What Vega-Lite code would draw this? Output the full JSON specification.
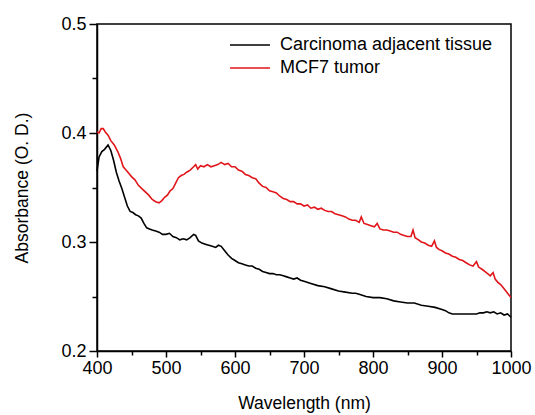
{
  "$schema": "https://vega.github.io/schema/vega-lite/v6.json",
  "width": 414,
  "height": 327,
  "autosize": {"type": "none"},
  "padding": {"left": 97, "top": 24, "right": 24, "bottom": 64},
  "background": "white",
  "config": {
    "font": "Liberation Sans",
    "view": {"stroke": "black", "strokeWidth": 1.5},
    "axis": {
      "grid": false,
      "domainColor": "black",
      "domainWidth": 1.5,
      "tickColor": "black",
      "tickWidth": 1.5,
      "labelColor": "black",
      "titleColor": "black",
      "labelFontSize": 18,
      "titleFontSize": 17.5,
      "titleFontWeight": "normal",
      "labelFont": "Liberation Sans",
      "titleFont": "Liberation Sans",
      "labelFlush": false,
      "labelOverlap": false
    },
    "legend": {
      "labelFontSize": 18,
      "labelFont": "Liberation Sans",
      "labelColor": "black",
      "labelLimit": 0
    }
  },
  "datasets": {
    "black": [
      {"w": 400, "a": 0.365}, {"w": 403, "a": 0.378}, {"w": 407, "a": 0.383}, {"w": 411, "a": 0.385},
      {"w": 416, "a": 0.389}, {"w": 420, "a": 0.384}, {"w": 424, "a": 0.375}, {"w": 428, "a": 0.364},
      {"w": 432, "a": 0.356}, {"w": 436, "a": 0.349}, {"w": 440, "a": 0.341}, {"w": 444, "a": 0.333},
      {"w": 448, "a": 0.328}, {"w": 452, "a": 0.327}, {"w": 456, "a": 0.325}, {"w": 460, "a": 0.324},
      {"w": 464, "a": 0.322}, {"w": 468, "a": 0.317}, {"w": 472, "a": 0.313}, {"w": 476, "a": 0.312},
      {"w": 480, "a": 0.311}, {"w": 485, "a": 0.310}, {"w": 490, "a": 0.309}, {"w": 495, "a": 0.307},
      {"w": 500, "a": 0.307}, {"w": 505, "a": 0.308}, {"w": 510, "a": 0.305}, {"w": 515, "a": 0.304},
      {"w": 520, "a": 0.302}, {"w": 525, "a": 0.303}, {"w": 530, "a": 0.302}, {"w": 535, "a": 0.304},
      {"w": 540, "a": 0.307}, {"w": 543, "a": 0.306}, {"w": 547, "a": 0.301}, {"w": 552, "a": 0.299},
      {"w": 557, "a": 0.298}, {"w": 562, "a": 0.297}, {"w": 567, "a": 0.296}, {"w": 572, "a": 0.295},
      {"w": 576, "a": 0.297}, {"w": 580, "a": 0.296}, {"w": 585, "a": 0.292}, {"w": 590, "a": 0.288},
      {"w": 595, "a": 0.285}, {"w": 600, "a": 0.283}, {"w": 605, "a": 0.281}, {"w": 610, "a": 0.280},
      {"w": 615, "a": 0.279}, {"w": 620, "a": 0.278}, {"w": 625, "a": 0.278}, {"w": 630, "a": 0.276},
      {"w": 635, "a": 0.275}, {"w": 640, "a": 0.273}, {"w": 645, "a": 0.272}, {"w": 650, "a": 0.271},
      {"w": 655, "a": 0.271}, {"w": 660, "a": 0.270}, {"w": 665, "a": 0.270}, {"w": 670, "a": 0.269},
      {"w": 675, "a": 0.268}, {"w": 680, "a": 0.267}, {"w": 685, "a": 0.266}, {"w": 690, "a": 0.267},
      {"w": 695, "a": 0.265}, {"w": 700, "a": 0.264}, {"w": 710, "a": 0.262}, {"w": 720, "a": 0.260},
      {"w": 730, "a": 0.259}, {"w": 740, "a": 0.257}, {"w": 750, "a": 0.255}, {"w": 760, "a": 0.254},
      {"w": 770, "a": 0.253}, {"w": 775, "a": 0.253}, {"w": 780, "a": 0.252}, {"w": 790, "a": 0.250},
      {"w": 800, "a": 0.249}, {"w": 810, "a": 0.249}, {"w": 820, "a": 0.248}, {"w": 830, "a": 0.246},
      {"w": 840, "a": 0.245}, {"w": 850, "a": 0.244}, {"w": 860, "a": 0.244}, {"w": 870, "a": 0.242},
      {"w": 880, "a": 0.241}, {"w": 890, "a": 0.240}, {"w": 900, "a": 0.238}, {"w": 905, "a": 0.237},
      {"w": 910, "a": 0.235}, {"w": 915, "a": 0.234}, {"w": 920, "a": 0.234}, {"w": 930, "a": 0.234},
      {"w": 940, "a": 0.234}, {"w": 950, "a": 0.234}, {"w": 955, "a": 0.235}, {"w": 960, "a": 0.235},
      {"w": 965, "a": 0.236}, {"w": 970, "a": 0.235}, {"w": 975, "a": 0.236}, {"w": 980, "a": 0.234},
      {"w": 985, "a": 0.235}, {"w": 990, "a": 0.233}, {"w": 995, "a": 0.234}, {"w": 1000, "a": 0.231}
    ],
    "red": [
      {"w": 400, "a": 0.401}, {"w": 403, "a": 0.400}, {"w": 406, "a": 0.404}, {"w": 409, "a": 0.404},
      {"w": 412, "a": 0.401}, {"w": 416, "a": 0.398}, {"w": 420, "a": 0.393}, {"w": 425, "a": 0.389},
      {"w": 430, "a": 0.383}, {"w": 434, "a": 0.377}, {"w": 438, "a": 0.369}, {"w": 442, "a": 0.366},
      {"w": 446, "a": 0.363}, {"w": 450, "a": 0.360}, {"w": 455, "a": 0.357}, {"w": 460, "a": 0.352},
      {"w": 465, "a": 0.349}, {"w": 470, "a": 0.346}, {"w": 475, "a": 0.343}, {"w": 480, "a": 0.339},
      {"w": 485, "a": 0.337}, {"w": 490, "a": 0.336}, {"w": 494, "a": 0.338}, {"w": 498, "a": 0.341},
      {"w": 502, "a": 0.343}, {"w": 506, "a": 0.347}, {"w": 510, "a": 0.349}, {"w": 514, "a": 0.354},
      {"w": 518, "a": 0.359}, {"w": 522, "a": 0.361}, {"w": 526, "a": 0.362}, {"w": 530, "a": 0.364},
      {"w": 535, "a": 0.366}, {"w": 540, "a": 0.369}, {"w": 543, "a": 0.371}, {"w": 546, "a": 0.367},
      {"w": 550, "a": 0.370}, {"w": 555, "a": 0.369}, {"w": 560, "a": 0.371}, {"w": 565, "a": 0.369},
      {"w": 570, "a": 0.370}, {"w": 575, "a": 0.371}, {"w": 580, "a": 0.373}, {"w": 585, "a": 0.371},
      {"w": 590, "a": 0.372}, {"w": 595, "a": 0.369}, {"w": 600, "a": 0.369}, {"w": 605, "a": 0.366},
      {"w": 610, "a": 0.365}, {"w": 615, "a": 0.362}, {"w": 620, "a": 0.361}, {"w": 625, "a": 0.359},
      {"w": 630, "a": 0.358}, {"w": 635, "a": 0.354}, {"w": 640, "a": 0.351}, {"w": 645, "a": 0.350},
      {"w": 650, "a": 0.347}, {"w": 655, "a": 0.346}, {"w": 660, "a": 0.345}, {"w": 665, "a": 0.342},
      {"w": 670, "a": 0.340}, {"w": 675, "a": 0.339}, {"w": 680, "a": 0.337}, {"w": 685, "a": 0.337},
      {"w": 690, "a": 0.335}, {"w": 695, "a": 0.335}, {"w": 700, "a": 0.333}, {"w": 705, "a": 0.334},
      {"w": 710, "a": 0.331}, {"w": 715, "a": 0.332}, {"w": 720, "a": 0.330}, {"w": 725, "a": 0.331},
      {"w": 730, "a": 0.329}, {"w": 735, "a": 0.328}, {"w": 740, "a": 0.328}, {"w": 745, "a": 0.326},
      {"w": 750, "a": 0.325}, {"w": 755, "a": 0.324}, {"w": 760, "a": 0.323}, {"w": 765, "a": 0.321},
      {"w": 770, "a": 0.320}, {"w": 775, "a": 0.320}, {"w": 780, "a": 0.318}, {"w": 783, "a": 0.323},
      {"w": 787, "a": 0.317}, {"w": 792, "a": 0.316}, {"w": 797, "a": 0.315}, {"w": 802, "a": 0.314},
      {"w": 806, "a": 0.317}, {"w": 810, "a": 0.312}, {"w": 815, "a": 0.311}, {"w": 820, "a": 0.311},
      {"w": 825, "a": 0.310}, {"w": 830, "a": 0.309}, {"w": 835, "a": 0.309}, {"w": 840, "a": 0.307},
      {"w": 845, "a": 0.306}, {"w": 850, "a": 0.305}, {"w": 855, "a": 0.305}, {"w": 858, "a": 0.311},
      {"w": 861, "a": 0.304}, {"w": 866, "a": 0.302}, {"w": 870, "a": 0.300}, {"w": 875, "a": 0.299},
      {"w": 880, "a": 0.297}, {"w": 885, "a": 0.296}, {"w": 889, "a": 0.301}, {"w": 892, "a": 0.295},
      {"w": 896, "a": 0.293}, {"w": 900, "a": 0.292}, {"w": 905, "a": 0.290}, {"w": 910, "a": 0.289},
      {"w": 915, "a": 0.287}, {"w": 920, "a": 0.286}, {"w": 925, "a": 0.284}, {"w": 930, "a": 0.283},
      {"w": 935, "a": 0.281}, {"w": 940, "a": 0.279}, {"w": 945, "a": 0.278}, {"w": 950, "a": 0.282},
      {"w": 953, "a": 0.277}, {"w": 958, "a": 0.275}, {"w": 962, "a": 0.273}, {"w": 966, "a": 0.271},
      {"w": 970, "a": 0.269}, {"w": 974, "a": 0.272}, {"w": 977, "a": 0.266}, {"w": 981, "a": 0.263},
      {"w": 985, "a": 0.261}, {"w": 990, "a": 0.257}, {"w": 995, "a": 0.253}, {"w": 1000, "a": 0.249}
    ]
  },
  "encoding": {
    "x": {
      "field": "w", "type": "quantitative",
      "scale": {"domain": [400, 1000], "nice": false, "zero": false},
      "axis": {
        "title": "Wavelength (nm)",
        "values": [400, 450, 500, 550, 600, 650, 700, 750, 800, 850, 900, 950, 1000],
        "format": "d",
        "labelExpr": "datum.value % 100 === 0 ? datum.label : ''",
        "tickSize": {"condition": {"test": "datum.value % 100 === 0", "value": 6}, "value": 4},
        "labelPadding": 2,
        "titlePadding": 17
      }
    },
    "y": {
      "field": "a", "type": "quantitative",
      "scale": {"domain": [0.2, 0.5], "nice": false, "zero": false},
      "axis": {
        "title": "Absorbance (O. D.)",
        "values": [0.2, 0.25, 0.3, 0.35, 0.4, 0.45, 0.5],
        "format": ".1f",
        "labelExpr": "abs(datum.value * 10 - round(datum.value * 10)) < 0.001 ? datum.label : ''",
        "tickSize": {"condition": {"test": "abs(datum.value * 10 - round(datum.value * 10)) < 0.001", "value": 8}, "value": 5},
        "labelPadding": 3,
        "titlePadding": 29
      }
    }
  },
  "layer": [
    {
      "data": {"name": "black"},
      "mark": {"type": "line", "strokeWidth": 1.6, "interpolate": "linear"},
      "encoding": {
        "color": {
          "datum": "Carcinoma adjacent tissue",
          "type": "nominal",
          "scale": {"domain": ["Carcinoma adjacent tissue", "MCF7 tumor"], "range": ["#000000", "#e0161a"]},
          "legend": {
            "title": null,
            "orient": "none",
            "legendX": 142,
            "legendY": 10,
            "symbolType": "M-2,0H2",
            "symbolSize": 400,
            "symbolStrokeWidth": 1.6,
            "labelOffset": 19,
            "rowPadding": 3,
            "padding": 0
          }
        }
      }
    },
    {
      "data": {"name": "red"},
      "mark": {"type": "line", "strokeWidth": 1.6, "interpolate": "linear"},
      "encoding": {
        "color": {"datum": "MCF7 tumor", "type": "nominal"}
      }
    }
  ]
}
